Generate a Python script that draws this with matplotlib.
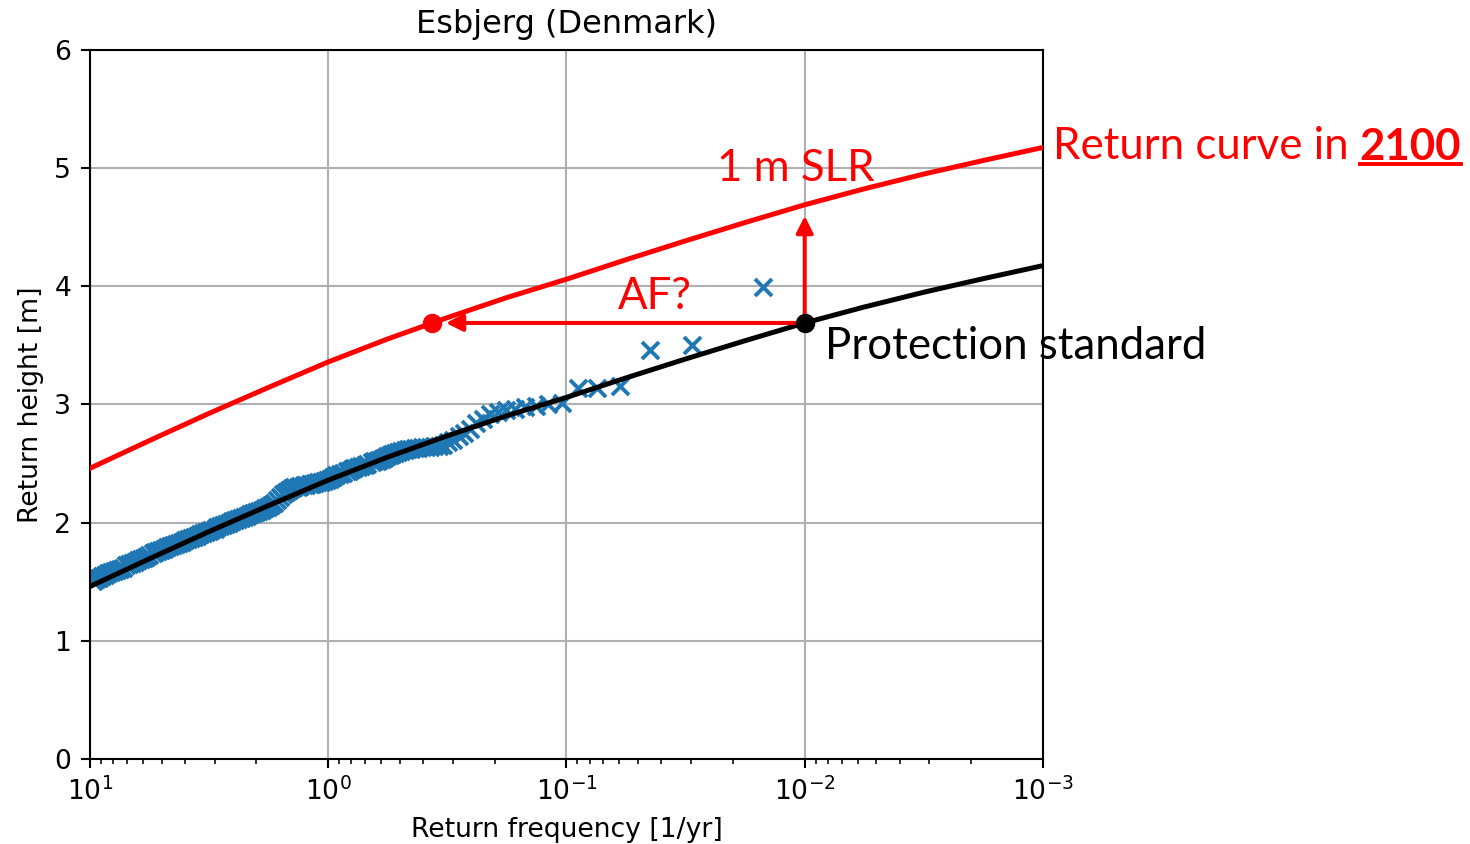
import matplotlib
matplotlib.use('Agg')
import matplotlib.pyplot as plt
from matplotlib.lines import Line2D
import numpy as np

# fitted return curve (log10 of frequency -> return height)
curve_logf = [1, 0.75, 0.5, 0.25, 0, -0.25, -0.5, -0.75, -1, -1.25, -1.5, -1.75, -2, -2.25, -2.5, -2.75, -3]
curve_height = [1.46, 1.695, 1.925, 2.145, 2.36, 2.555, 2.735, 2.905, 3.06, 3.225, 3.385, 3.54, 3.69,
                3.825, 3.95, 4.065, 4.175]

# observed extremes, ranked (1 = largest)
record_years = 67
obs_rank = [650, 632, 614, 597, 580, 564, 548, 532, 517, 502, 488, 474, 461, 448, 435, 423,
            411, 399, 388, 377, 366, 356, 346, 336, 327, 318, 309, 300, 292, 284, 276, 268,
            261, 253, 246, 239, 232, 225, 219, 213, 207, 201, 196, 190, 185, 180, 175, 170,
            165, 160, 156, 151, 147, 143, 139, 135, 131, 127, 124, 120, 117, 113, 110, 107,
            104, 101, 98, 95, 93, 90, 88, 85, 83, 80, 78, 76, 74, 72, 70, 68,
            66, 64, 62, 60, 58, 56, 55, 53, 52, 50, 49, 47, 46, 44, 43, 42,
            41, 40, 39, 38, 37, 36, 35, 34, 33, 32, 31, 30, 29, 28, 27, 26,
            25, 24, 23, 22, 21, 20, 19, 18, 17, 16, 15, 14, 13, 12, 11, 10,
            9, 8, 7, 6, 5, 4, 3, 2, 1]
obs_height = [1.51, 1.52, 1.53, 1.55, 1.56, 1.57, 1.58, 1.59, 1.60, 1.61, 1.62, 1.64, 1.65, 1.66, 1.67, 1.68,
              1.69, 1.70, 1.71, 1.73, 1.74, 1.75, 1.76, 1.77, 1.78, 1.79, 1.80, 1.81, 1.82, 1.83, 1.84, 1.85,
              1.86, 1.87, 1.88, 1.89, 1.90, 1.91, 1.92, 1.93, 1.94, 1.95, 1.96, 1.97, 1.98, 1.99, 2.00, 2.01,
              2.02, 2.03, 2.04, 2.05, 2.06, 2.07, 2.08, 2.09, 2.10, 2.11, 2.12, 2.13, 2.15, 2.17, 2.19, 2.22,
              2.24, 2.26, 2.28, 2.29, 2.30, 2.305, 2.31, 2.315, 2.32, 2.325, 2.33, 2.335, 2.34, 2.345, 2.35, 2.36,
              2.37, 2.385, 2.40, 2.41, 2.42, 2.435, 2.44, 2.45, 2.46, 2.47, 2.48, 2.49, 2.50, 2.51, 2.52, 2.525,
              2.53, 2.54, 2.55, 2.56, 2.57, 2.58, 2.59, 2.60, 2.61, 2.615, 2.62, 2.625, 2.63, 2.635, 2.64, 2.64,
              2.64, 2.645, 2.65, 2.66, 2.68, 2.70, 2.73, 2.76, 2.79, 2.84, 2.88, 2.92, 2.94, 2.95, 2.96, 2.98,
              2.99, 3.00, 3.01, 3.14, 3.14, 3.16, 3.46, 3.50, 3.99]

slr = 1.0            # sea level rise [m]
protect_freq = 0.01  # protection standard [1/yr]
protect_height = 3.69
af_freq = 0.367      # frequency of the same height after SLR

curve_freq = 10.0 ** np.array(curve_logf)
curve_height = np.array(curve_height)
obs_freq = np.array(obs_rank) / record_years

ann_font = ['Lato', 'DejaVu Sans']
ann_size = 31.5
red = '#ff0000'

fig = plt.figure(figsize=(14.7, 8.44), dpi=100)
ax = fig.add_axes([0.0612, 0.1007, 0.6483, 0.8401])

ax.scatter(obs_freq, obs_height, marker='x', s=150, linewidths=2.8, color='#1f77b4', zorder=2)
ax.plot(curve_freq, curve_height, color='k', lw=3.6, zorder=3)
ax.plot(curve_freq, curve_height + slr, color=red, lw=3.6, zorder=3)

# arrows: more frequent flooding and 1 m rise
ax.annotate('', xy=(af_freq, protect_height), xytext=(protect_freq, protect_height),
            arrowprops=dict(arrowstyle='-|>,head_length=0.5,head_width=0.25', mutation_scale=20,
                            color=red, lw=2.9, shrinkA=6, shrinkB=10), zorder=4)
ax.annotate('', xy=(protect_freq, protect_height + slr), xytext=(protect_freq, protect_height),
            arrowprops=dict(arrowstyle='-|>,head_length=0.5,head_width=0.25', mutation_scale=20,
                            color=red, lw=2.9, shrinkA=6, shrinkB=8), zorder=4)
ax.plot([af_freq], [protect_height], 'o', color=red, ms=13, zorder=5)
ax.plot([protect_freq], [protect_height], 'o', color='k', ms=13, zorder=5)

ax.text(0.0109, 5.0, '1 m SLR', color=red, fontsize=ann_size, family=ann_font, ha='center', va='center')
ax.text(0.0425, 3.91, 'AF?', color=red, fontsize=ann_size, family=ann_font, ha='center', va='center')
ax.text(0.0082, 3.49, 'Protection standard', color='k', fontsize=ann_size, family=ann_font,
        ha='left', va='center', clip_on=False)
t1 = ax.text(1.0105, 5.18, 'Return curve in ', color=red, fontsize=ann_size, family=ann_font,
             ha='left', va='center', transform=ax.get_yaxis_transform(), clip_on=False)
t2 = ax.annotate('2100', xy=(1, 0), xycoords=t1, color=red, fontsize=ann_size, family=ann_font,
                 fontweight='bold', ha='left', va='bottom', annotation_clip=False)

ax.set_xscale('log')
ax.set_xlim(10, 1e-3)
ax.set_ylim(0, 6)
ax.set_yticks(range(7))
ax.grid(True, which='major', color='#b0b0b0', lw=1.5)
ax.set_axisbelow(True)
for s in ax.spines.values():
    s.set_linewidth(1.5)
ax.tick_params(which='major', labelsize=19.2, length=6.7, width=1.5, pad=6.7)
ax.tick_params(which='minor', length=3.8, width=1.15)
ax.set_xlabel('Return frequency [1/yr]', fontsize=19.2, labelpad=7.7)
ax.set_ylabel('Return height [m]', fontsize=19.2, labelpad=7.7)
ax.set_title('Esbjerg (Denmark)', fontsize=23, pad=12.5)

# underline the year
fig.canvas.draw()
bb = t2.get_window_extent()
uy = bb.y0 + 0.08 * bb.height
fig.add_artist(Line2D([bb.x0, bb.x1], [uy, uy], transform=None, color=red, lw=2.8))

fig.savefig('out.png', dpi=100)
